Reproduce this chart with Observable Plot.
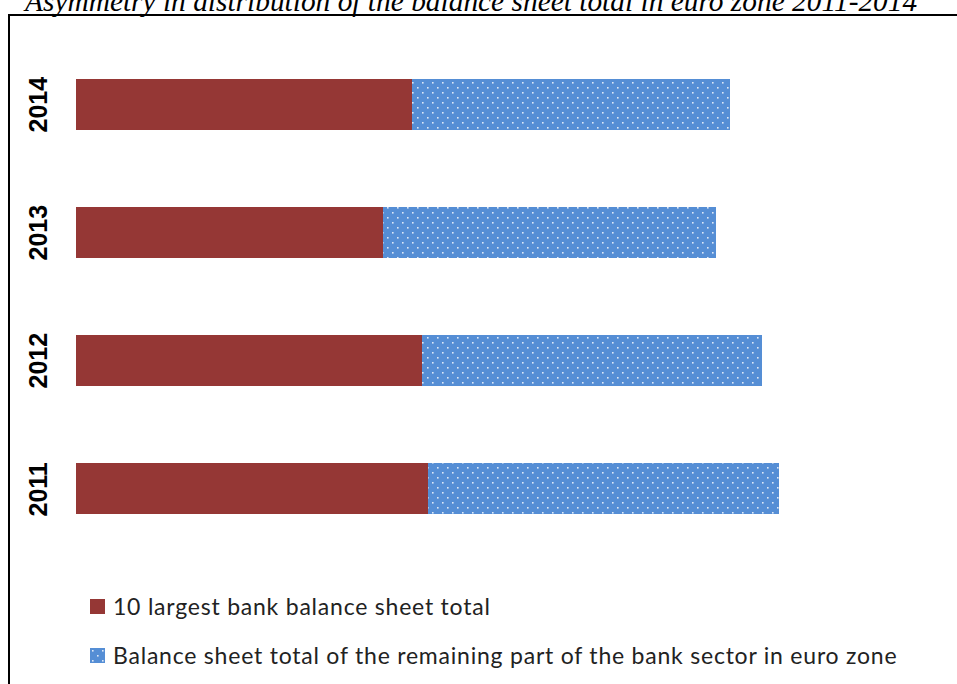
<!DOCTYPE html>
<html>
<head>
<meta charset="utf-8">
<script src="https://cdn.jsdelivr.net/npm/d3@7"></script>
<script src="https://cdn.jsdelivr.net/npm/@observablehq/plot@0.6"></script>
<style>
  html, body { margin: 0; padding: 0; background: #fff; }
  #wrap { position: relative; width: 957px; height: 684px; overflow: hidden; background: #fff; }
  #title { position: absolute; left: 25px; top: -13.5px; font: italic 29.4px "Liberation Serif", serif; line-height: 29.4px; white-space: nowrap; color: #000; }
  #frame { position: absolute; left: 8px; top: 14px; width: 1000px; height: 800px; border-top: 2px solid #000; border-left: 2px solid #000; }
  #chart { position: absolute; left: 0; top: 0; }
  .leg { position: absolute; left: 90px; font: 23px Lato, sans-serif; letter-spacing: 0.78px; color: #222; white-space: nowrap; display: flex; align-items: center; line-height: 24px; }
  .leg svg { margin-right: 8px; }
</style>
</head>
<body>
<div id="wrap">
  <div id="title"></div>
  <div id="frame"></div>
  <div id="chart"></div>
  <div class="leg" id="leg1"></div>
  <div class="leg" id="leg2"></div>
</div>
<script>
// ---- data (approx. trillion EUR) ----
const titleText = "Asymmetry in distribution of the balance sheet total in euro zone 2011-2014";
const years = ["2014", "2013", "2012", "2011"];
const seriesNames = [
  "10 largest bank balance sheet total",
  "Balance sheet total of the remaining part of the bank sector in euro zone"
];
const largest10 = [16.8, 15.35, 17.3, 17.6];
const remaining = [15.9, 16.65, 17.0, 17.55];
const seriesColors = ["#953735", "url(#dots)"];

const rows = [];
years.forEach((y, i) => {
  rows.push({year: y, series: seriesNames[0], value: largest10[i]});
  rows.push({year: y, series: seriesNames[1], value: remaining[i]});
});

document.getElementById("title").textContent = titleText;

const chart = Plot.plot({
  width: 957,
  height: 560,
  marginLeft: 76,
  marginRight: 81,
  marginTop: 40.5,
  marginBottom: 7.5,
  style: {background: "transparent", overflow: "visible"},
  x: {domain: [0, 40], axis: null},
  y: {domain: years, paddingInner: 0.6, paddingOuter: 0.3, axis: null},
  color: {domain: seriesNames, range: seriesColors},
  marks: [
    Plot.barX(rows, Plot.stackX({y: "year", x: "value", fill: "series", order: null})),
    Plot.text(years, {
      y: d => d, frameAnchor: "left", dx: -38, dy: 27.5, rotate: -90,
      text: d => d, fontSize: 25, fontWeight: "bold",
      fontFamily: "Liberation Sans, Arial, sans-serif", fill: "#000"
    })
  ]
});

// dotted pattern for the blue series
const ns = "http://www.w3.org/2000/svg";
function addPattern(svg) {
  const defs = document.createElementNS(ns, "defs");
  defs.innerHTML =
    '<pattern id="dots" patternUnits="userSpaceOnUse" width="10" height="10">' +
    '<rect width="10" height="10" fill="#558ed5"/>' +
    '<rect x="2" y="2" width="1.6" height="1.6" fill="#dce8f8"/>' +
    '<rect x="7" y="7" width="1.6" height="1.6" fill="#dce8f8"/>' +
    '</pattern>';
  svg.insertBefore(defs, svg.firstChild);
}
addPattern(chart);
document.getElementById("chart").appendChild(chart);

// legend
function legendItem(el, fill, label, top) {
  el.style.top = top + "px";
  const sw = d3.create("svg").attr("width", 15).attr("height", 15);
  sw.append("rect").attr("width", 15).attr("height", 15).attr("fill", fill);
  el.appendChild(sw.node());
  const sp = document.createElement("span");
  sp.textContent = label;
  el.appendChild(sp);
}
legendItem(document.getElementById("leg1"), seriesColors[0], seriesNames[0], 594);
legendItem(document.getElementById("leg2"), seriesColors[1], seriesNames[1], 643);
</script>
</body>
</html>
